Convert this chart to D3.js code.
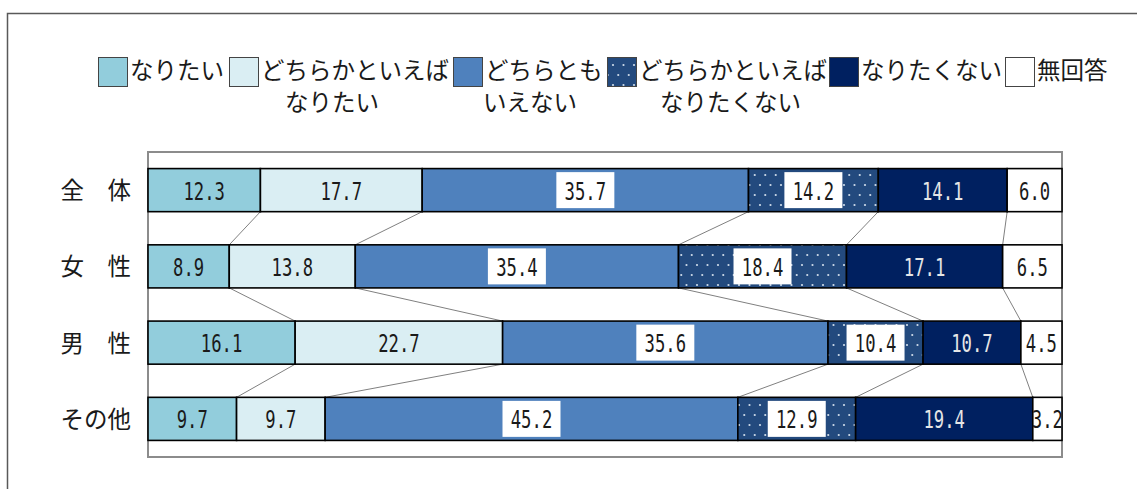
<!DOCTYPE html>
<html>
<head>
<meta charset="utf-8">
<script src="https://cdn.jsdelivr.net/npm/d3@7"></script>
<style>
  html, body { margin: 0; padding: 0; background: #fff; }
  svg { display: block; }
</style>
</head>
<body>
<svg id="chart" width="1137" height="489"></svg>
<script>
const categories = ["全　体", "女　性", "男　性", "その他"];
const seriesNames = ["なりたい", "どちらかといえばなりたい", "どちらともいえない", "どちらかといえばなりたくない", "なりたくない", "無回答"];
const legendLines = [["なりたい"], ["どちらかといえば", "なりたい"], ["どちらとも", "いえない"], ["どちらかといえば", "なりたくない"], ["なりたくない"], ["無回答"]];
const valNaritai      = [12.3, 8.9, 16.1, 9.7];
const valDochiraNari  = [17.7, 13.8, 22.7, 9.7];
const valDochiraTomo  = [35.7, 35.4, 35.6, 45.2];
const valDochiraNaku  = [14.2, 18.4, 10.4, 12.9];
const valNarikunai    = [14.1, 17.1, 10.7, 19.4];
const valMukaito      = [6.0, 6.5, 4.5, 3.2];

const series = [valNaritai, valDochiraNari, valDochiraTomo, valDochiraNaku, valNarikunai, valMukaito];
const colors = ["#92CDDC", "#DAEEF3", "#4F81BD", "url(#dots)", "#002060", "#FFFFFF"];
const labelBox = [false, false, true, true, false, false];
const labelColor = ["#1a1a1a", "#1a1a1a", "#1a1a1a", "#1a1a1a", "#e6e6e6", "#1a1a1a"];

const svg = d3.select("#chart");
const defs = svg.append("defs");
const pat = defs.append("pattern").attr("id", "dots").attr("patternUnits", "userSpaceOnUse")
  .attr("width", 21).attr("height", 20);
pat.append("rect").attr("width", 21).attr("height", 20).attr("fill", "#234A7E");
[[4, 5], [14.5, 5], [9.25, 15], [19.75, 15]].forEach(([cx, cy]) =>
  pat.append("circle").attr("cx", cx).attr("cy", cy).attr("r", 1.1).attr("fill", "#cfdcea"));

// outer frame
svg.append("path").attr("d", "M7.5,489 L7.5,13.5 L1137,13.5").attr("fill", "none")
  .attr("stroke", "#595959").attr("stroke-width", 1.5);

const plot = { left: 148, right: 1062, top: 152, bottom: 457 };
const x = d3.scaleLinear().domain([0, 100]).range([plot.left, plot.right]);
const y = d3.scaleBand().domain(categories).range([plot.top, plot.bottom]).paddingInner(0.435).paddingOuter(0.2175);

svg.append("rect").attr("x", plot.left).attr("y", plot.top)
  .attr("width", plot.right - plot.left).attr("height", plot.bottom - plot.top)
  .attr("fill", "none").attr("stroke", "#8c8c8c").attr("stroke-width", 2);

// stacked data normalized to 100%
const rows = categories.map((c, i) => {
  const vals = series.map(s => s[i]);
  const total = d3.sum(vals);
  let acc = 0;
  const segs = vals.map((v, k) => {
    const s = { cat: c, k, v, x0: acc / total * 100, x1: (acc + v) / total * 100 };
    acc += v;
    return s;
  });
  return { cat: c, segs };
});

// connector lines
const connG = svg.append("g");
for (let i = 0; i < rows.length - 1; i++) {
  for (let k = 0; k < 5; k++) {
    connG.append("line")
      .attr("x1", x(rows[i].segs[k].x1)).attr("y1", y(rows[i].cat) + y.bandwidth())
      .attr("x2", x(rows[i + 1].segs[k].x1)).attr("y2", y(rows[i + 1].cat))
      .attr("stroke", "#808080").attr("stroke-width", 1);
  }
}

// bars
const barG = svg.append("g");
rows.forEach(r => {
  barG.selectAll(null).data(r.segs).enter().append("rect")
    .attr("x", d => x(d.x0)).attr("y", y(r.cat))
    .attr("width", d => x(d.x1) - x(d.x0)).attr("height", y.bandwidth())
    .attr("fill", d => colors[d.k]).attr("stroke", "#000").attr("stroke-width", 1.6);
});

// labels
const labG = svg.append("g");
rows.forEach(r => {
  const cy = y(r.cat) + y.bandwidth() / 2;
  r.segs.forEach(d => {
    const cx = (x(d.x0) + x(d.x1)) / 2;
    if (labelBox[d.k]) {
      labG.append("rect").attr("x", cx - 29).attr("y", cy - 18).attr("width", 58).attr("height", 36).attr("fill", "#fff");
    }
    labG.append("text")
      .attr("transform", `translate(${cx},${cy + 9.5}) scale(0.69,1)`)
      .attr("text-anchor", "middle")
      .attr("font-family", "DejaVu Sans Mono")
      .attr("font-size", 25)
      .attr("fill", labelColor[d.k])
      .text(d.v.toFixed(1));
  });
});

// category axis labels
svg.append("g").selectAll("text").data(categories).enter().append("text")
  .attr("x", 131).attr("y", d => y(d) + y.bandwidth() / 2 + 9)
  .attr("text-anchor", "end")
  .attr("font-family", "Noto Sans CJK JP").attr("font-size", 23.5).attr("fill", "#1a1a1a")
  .text(d => d);

// legend
const legendX = [98, 229, 453, 607, 829, 1005];
const secondLineX = [null, 285, 483, 660, null, null];
const legG = svg.append("g");
seriesNames.forEach((name, k) => {
  legG.append("rect").attr("x", legendX[k] + 0.5).attr("y", 57.5).attr("width", 29).attr("height", 29)
    .attr("fill", colors[k]).attr("stroke", "#444").attr("stroke-width", 1);
  legG.append("text").attr("x", legendX[k] + 32).attr("y", 79)
    .attr("font-family", "Noto Sans CJK JP").attr("font-size", 23.5).attr("fill", "#1a1a1a")
    .text(legendLines[k][0]);
  if (legendLines[k][1]) {
    legG.append("text").attr("x", secondLineX[k]).attr("y", 111)
      .attr("font-family", "Noto Sans CJK JP").attr("font-size", 23.5).attr("fill", "#1a1a1a")
      .text(legendLines[k][1]);
  }
});
</script>
</body>
</html>
